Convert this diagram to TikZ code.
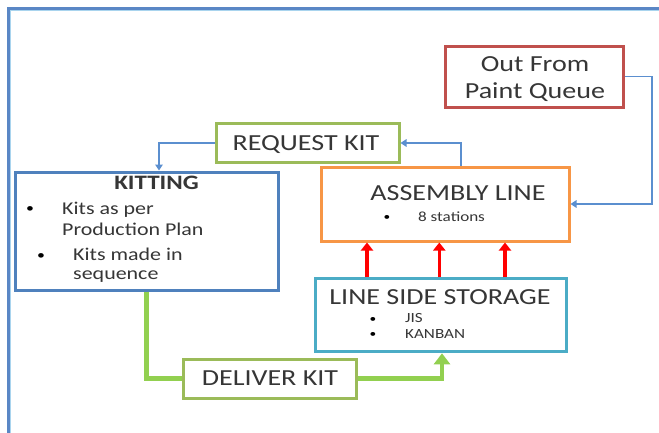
\documentclass[tikz,border=0pt]{standalone}
\usepackage{fontspec}
\setmainfont{Carlito}[FakeStretch=1.22]
\usetikzlibrary{arrows.meta}

\definecolor{txt}{HTML}{363636}
\definecolor{boxred}{HTML}{C0504D}
\definecolor{boxgreen}{HTML}{9BBB59}
\definecolor{boxblue}{HTML}{4F81BD}
\definecolor{boxorange}{HTML}{F79646}
\definecolor{boxcyan}{HTML}{4BACC6}
\definecolor{linkblue}{HTML}{5B8FCF}
\definecolor{flowgreen}{HTML}{92D050}
\definecolor{feedred}{HTML}{FF0000}
\definecolor{frameblue}{HTML}{5A87C5}
\definecolor{framelight}{HTML}{A9D4EE}

\tikzset{
  box/.style={draw, rectangle, line width=3pt, inner sep=0pt, fill=white},
  headtext/.style={anchor=base, text=txt, inner sep=0pt, font=\fontsize{23}{26}\selectfont},
  itemtext/.style={anchor=base west, text=txt, inner sep=0pt, font=\fontsize{18}{21}\selectfont},
  notetext/.style={anchor=base west, text=txt, inner sep=0pt, font=\fontsize{14}{16}\selectfont},
  bigdot/.style={anchor=base west, text=black, inner sep=0pt, font=\fontsize{13}{15}\selectfont},
  smalldot/.style={anchor=base west, text=black, inner sep=0pt, font=\fontsize{11}{13}\selectfont},
  link/.style={draw=linkblue, line width=1.8pt, -{Triangle[length=6pt,width=7.5pt]}},
  feed/.style={draw=feedred, line width=3.6pt, -{Triangle[length=8pt,width=12pt]}},
  flow/.style={draw=flowgreen, line width=4.5pt, -{Triangle[length=11pt,width=16pt]}},
}

\begin{document}
\begin{tikzpicture}[x=1pt, y=-1pt]
\useasboundingbox (0,0) rectangle (659,432);

% outer frame (open to the right and bottom)
\draw[frameblue, line width=3pt] (670,8.5) -- (8.5,8.5) -- (8.5,440);
\draw[framelight, line width=1.2pt] (670,10.6) -- (10.6,10.6) -- (10.6,440);

% boxes
\node[box, draw=boxred,    minimum width=178pt, minimum height=61pt] (paint)    at (534,76.5) {};
\node[box, draw=boxgreen,  minimum width=183pt, minimum height=39pt] (request)  at (307.5,143) {};
\node[box, draw=boxblue,   minimum width=263pt, minimum height=118pt] (kitting) at (146.5,231) {};
\node[box, draw=boxorange, minimum width=248pt, minimum height=74pt] (assembly) at (445,204) {};
\node[box, draw=boxcyan,   minimum width=251pt, minimum height=73pt] (storage)  at (441.3,315.3) {};
\node[box, draw=boxgreen,  minimum width=173pt, minimum height=39pt] (deliver)  at (270,378.5) {};

% box texts
\node[headtext] (paintA) at (535,71.7) {Out From};
\node[headtext] (paintB) at (535,98) {Paint Queue};
\node[headtext] (requestT) at (306,150) {REQUEST KIT};
\node[headtext] (deliverT) at (270,385) {DELIVER KIT};

\node[anchor=base, text=txt, inner sep=0pt, font=\fontsize{20.5}{24}\selectfont\bfseries] (kittingT) at (156.5,189) {KITTING};
\node[bigdot] (kb1) at (26,212.7) {•};
\node[itemtext] (ki1) at (62,214.5) {Kits as per};
\node[itemtext] (ki1b) at (62,235) {Production Plan};
\node[bigdot] (kb2) at (37,259.7) {•};
\node[itemtext] (ki2) at (73,260) {Kits made in};
\node[itemtext] (ki2b) at (73,279) {sequence};

\node[headtext] (assemblyT) at (458,200) {ASSEMBLY LINE};
\node[smalldot] (ab1) at (383.5,220) {•};
\node[notetext] (ai1) at (418,221) {8 stations};

\node[headtext] (storageT) at (440,304.3) {LINE SIDE STORAGE};
\node[smalldot] (sb1) at (369.5,322.3) {•};
\node[notetext] (si1) at (405,322.7) {JIS};
\node[smalldot] (sb2) at (369.5,337.3) {•};
\node[notetext] (si2) at (405,338.3) {KANBAN};

% routing points
\coordinate (pr) at (652,0);
\coordinate (au) at (461,0);
\coordinate (kn) at (159,0);
\coordinate (r1) at (367,0);
\coordinate (r2) at (439.3,0);
\coordinate (r3) at (505,0);
\coordinate (gu) at (442,0);

% blue information links
\draw[link] (paint.east) -- (paint.east -| pr) |- (assembly.east);
\draw[link] (assembly.north -| au) |- (request.east);
\draw[link] (request.west) -| (kitting.north -| kn);

% red supply arrows
\draw[feed] (storage.north -| r1) -- (assembly.south -| r1);
\draw[feed] (storage.north -| r2) -- (assembly.south -| r2);
\draw[feed] (storage.north -| r3) -- (assembly.south -| r3);

% green material flow
\draw[draw=flowgreen, line width=4.5pt] (kitting.south) |- (deliver.west);
\draw[flow] (deliver.east) -| (storage.south -| gu);
\end{tikzpicture}
\end{document}
